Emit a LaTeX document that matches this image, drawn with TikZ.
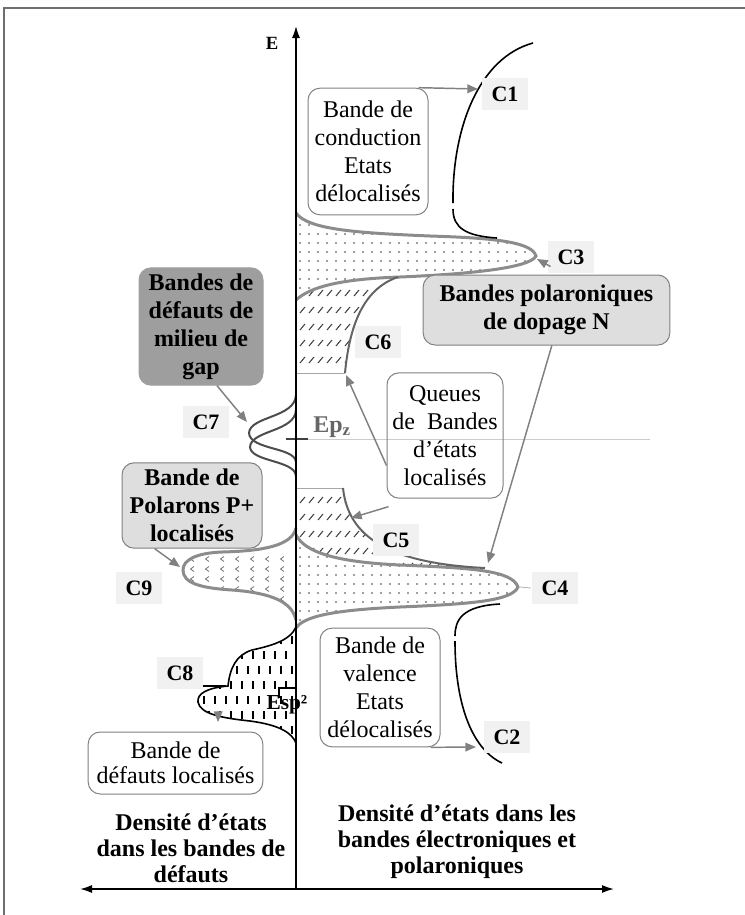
\documentclass[tikz,border=0pt]{standalone}
\usepackage{fontspec}
\setmainfont{Liberation Serif}
\usetikzlibrary{arrows.meta}

\definecolor{framegray}{RGB}{110,110,110}
\definecolor{bandgray}{RGB}{140,140,140}
\definecolor{tailgray}{RGB}{100,100,100}
\definecolor{boxgray}{RGB}{128,128,128}
\definecolor{lightfill}{RGB}{222,222,222}
\definecolor{darkfill}{RGB}{158,158,158}
\definecolor{labelbg}{RGB}{241,241,241}
\definecolor{dotgray}{RGB}{125,125,125}

\tikzset{every picture/.style={line width=0.75pt}}
\tikzset{
  txtbox/.style={draw=boxgray, rounded corners=9pt, align=center, inner sep=2pt, font=\fontsize{18}{21}\selectfont},
  greybox/.style={txtbox, fill=lightfill, font=\bfseries\fontsize{18}{21}\selectfont},
  gapbox/.style={txtbox, draw=darkfill, fill=darkfill, font=\bfseries\fontsize{18}{21}\selectfont},
  clabel/.style={fill=labelbg, inner sep=0pt, minimum width=35pt, minimum height=24pt, font=\bfseries\fontsize{16.5}{18}\selectfont},
  bottomtxt/.style={align=center, inner sep=0pt, font=\bfseries\fontsize{18}{19.5}\selectfont},
  bandline/.style={draw=bandgray, line width=2.25pt},
  tailline/.style={draw=tailgray, line width=1.5pt},
  gapline/.style={draw=black!70, line width=1.5pt},
  dosline/.style={draw=black, line width=1.2pt},
  hatchline/.style={draw=black!75, line width=0.8pt},
  pointer/.style={draw=boxgray, line width=1.1pt, -{Triangle[length=8pt,width=6.5pt]}},
  axisline/.style={draw=black, line width=1.2pt},
}

% band outlines, from the E axis out and back
\def\bandcthree{(296,213) .. controls (308,230) and (360,233) .. (430,236) .. controls (495,238) and (532,242) .. (536,256) .. controls (530,268) and (470,274) .. (400,277) .. controls (340,279) and (310,287) .. (296,300)}
\def\bandcfour{(296,535) .. controls (305,552) and (335,562) .. (400,565) .. controls (470,568) and (512,570) .. (518,587) .. controls (512,601) and (470,604) .. (400,607) .. controls (335,610) and (304,616) .. (296,628)}
\def\bandcnine{(296,528) .. controls (292,546) and (262,551) .. (222,552) .. controls (196,553) and (183,560) .. (183,570) .. controls (183,583) and (200,588) .. (232,590) .. controls (272,593) and (292,602) .. (296,620)}
\def\bandceight{(296,627) .. controls (290,641) and (270,646) .. (252,650) .. controls (236,655) and (230,668) .. (228,686) .. controls (206,688) and (197,694) .. (198,702) .. controls (200,714) and (222,718) .. (250,721) .. controls (280,725) and (292,733) .. (296,743)}

\begin{document}
\begin{tikzpicture}[x=0.75pt,y=0.75pt,yscale=-1,xscale=1]
\useasboundingbox (0,0) rectangle (745,915);

% frame
\draw[draw=framegray, line width=2pt] (745,8) -- (4,8) -- (4,915);

% dotted polaron bands
\begin{scope}
  \clip \bandcthree -- cycle;
  \foreach \x in {300,309,...,540}
    \foreach \y in {216,225,...,300}
      \fill[dotgray] (\x,\y) circle (0.8pt);
\end{scope}
\begin{scope}
  \clip \bandcfour -- cycle;
  \foreach \x in {300,309,...,520}
    \foreach \y in {539,548,...,628}
      \fill[dotgray] (\x,\y) circle (0.8pt);
\end{scope}

% hatched band tails C6 and C5
\begin{scope}
  \clip (296,300) .. controls (310,287) and (340,279) .. (400,277) -- (398,277) .. controls (366,288) and (350,320) .. (345,373) -- (296,373) -- cycle;
  \foreach \y in {293,310,327,343,360}
    \foreach \x in {300,309,...,400}
      \draw[hatchline] (\x,\y+3) -- (\x+5,\y-3);
\end{scope}
\begin{scope}
  \clip (296,488) -- (343,488) .. controls (348,535) and (385,563) .. (485,568) -- (400,565) .. controls (335,562) and (305,552) .. (296,535) -- cycle;
  \foreach \y in {500,517,534,551,566}
    \foreach \x in {300,309,...,480}
      \draw[hatchline] (\x,\y+3) -- (\x+5,\y-3);
\end{scope}

% P+ polarons and mid-gap defects
\begin{scope}
  \clip \bandcnine -- cycle;
  \foreach \y [count=\r] in {559,569,579,589,599}
    \foreach \x in {192,207,...,296}
      \draw[draw=black!55, line width=0.6pt] (\x+2,\y-2.5) -- (\x-1.5,\y) -- (\x+2,\y+2.5);
\end{scope}
\begin{scope}
  \clip \bandceight -- cycle;
  \foreach \y in {640,670,...,745}
    \foreach \x in {204,215,...,296}
      \draw[draw=black, line width=0.9pt] (\x,\y-4) -- (\x,\y+4);
  \foreach \y in {655,685,...,745}
    \foreach \x in {209,220,...,296}
      \draw[draw=black, line width=0.9pt] (\x,\y-4) -- (\x,\y+4);
\end{scope}

% outlines
\draw[bandline] \bandcthree;
\draw[bandline] \bandcfour;
\draw[bandline] \bandcnine;
\draw[dosline] \bandceight;
\draw[draw=black!35, line width=0.6pt] (296,373) -- (345,373);
\draw[draw=black!35, line width=0.6pt] (296,488) -- (343,488);
\draw[tailline] (345,373) .. controls (350,320) and (366,288) .. (398,277);
\draw[tailline] (343,488) .. controls (348,535) and (385,563) .. (485,568);

% C7 defect lobes
\draw[gapline] (296,395) .. controls (295,418) and (250,416) .. (249,433) .. controls (250,450) and (295,447) .. (296,462);
\draw[gapline] (296,410) .. controls (295,432) and (251,430) .. (250,447) .. controls (251,462) and (295,460) .. (296,476);

% delocalised bands C1 and C2
\draw[dosline] (533,43) .. controls (478,58) and (452,130) .. (453,203);
\draw[dosline] (453,209) .. controls (453,228) and (466,236) .. (497,238);
\draw[dosline] (500,604) .. controls (462,606) and (455,620) .. (455,636);
\draw[dosline] (455,641) .. controls (455,700) and (470,748) .. (502,763);

% Ep_z level
\draw[draw=black!20, line width=0.6pt] (308,439) -- (650,439);
\draw[draw=black!75, line width=1.5pt] (286,439) -- (308,439);
\node[font=\bfseries\fontsize{18}{21}\selectfont, text=black!60, inner sep=0pt] (epz) at (332,427) {Ep\textsubscript{z}};

% Esp2 level and C8 tick
\draw[line width=1.2pt] (279,698) -- (279,688) -- (296,688);
\draw[line width=1.2pt] (200,686) -- (226,686);
\node[font=\bfseries\fontsize{16}{18}\selectfont, inner sep=0pt] (esp) at (287,705) {Esp²};

% axes
\coordinate (etop) at (296,26);
\coordinate (ebot) at (296,889);
\coordinate (hleft) at (80,889);
\coordinate (hright) at (614,889);
\draw[axisline, -{Latex[length=9pt,width=6pt]}] (ebot) -- (etop);
\draw[axisline, {Latex[length=9pt,width=6pt]}-{Latex[length=9pt,width=6pt]}] (hleft) -- (hright);
\node[font=\bfseries\fontsize{14}{16}\selectfont] (elabel) at (272,43) {E};

% curve labels
\node[clabel] (c1) at (505,94) {C1};
\node[clabel] (c3) at (571,257) {C3};
\node[clabel] (c6) at (378,342) {C6};
\node[clabel] (c7) at (206,422) {C7};
\node[clabel] (c5) at (396,540) {C5};
\node[clabel] (c9) at (139,588) {C9};
\node[clabel] (c4) at (555,588) {C4};
\node[clabel] (c8) at (180,673) {C8};
\node[clabel] (c2) at (507,737) {C2};
\coordinate (c4end) at (520,587);
\draw[draw=black!30, line width=0.6pt] (c4end) -- (c4.west);

% text boxes
\node[txtbox, minimum width=90pt, minimum height=95pt] (condbox) at (368,151.5) {Bande de\\conduction\\Etats\\délocalisés};
\node[txtbox, minimum width=87pt, minimum height=94pt] (queues) at (445,435.5) {Queues\\de\ \ Bandes\\d’états\\localisés};
\node[greybox, minimum width=185pt, minimum height=52.5pt] (polbox) at (546.5,310) {Bandes polaroniques\\de dopage N};
\node[gapbox, minimum width=93pt, minimum height=88pt] (gapbox) at (201,326.5) {Bandes de\\défauts de\\milieu de\\gap};
\node[greybox, minimum width=105pt, minimum height=64pt] (pplus) at (192,505.5) {Bande de\\Polarons P+\\localisés};
\node[txtbox, minimum width=90pt, minimum height=89pt] (valbox) at (380,687.5) {Bande de\\valence\\Etats\\délocalisés};
\node[txtbox, font=\fontsize{18}{19}\selectfont, minimum width=131pt, minimum height=46.5pt] (defbox) at (175.5,763) {Bande de\\défauts localisés};

% pointers
\coordinate (c1pt) at (478,89);
\coordinate (c3tip) at (537,259);
\coordinate (c4top) at (488,563);
\coordinate (c6end) at (346,375);
\coordinate (c5pt) at (351,518);
\coordinate (c7tip) at (247,422);
\coordinate (c9tip) at (180,567);
\coordinate (c8bot) at (218,722);
\coordinate (c2pt) at (476,747);
\draw[pointer] ([xshift=-7.5pt]condbox.north east) -- (c1pt);
\draw[pointer] ([xshift=3pt,yshift=-6pt]polbox.north) -- (c3tip);
\draw[pointer] ([xshift=4pt]polbox.south) -- (c4top);
\draw[pointer] ([yshift=22.5pt]queues.west) -- (c6end);
\draw[pointer] ([shift={(1.5pt,6pt)}]queues.south west) -- (c5pt);
\draw[pointer] ([xshift=12pt]gapbox.south) -- (c7tip);
\draw[pointer] ([xshift=-28pt]pplus.south) -- (c9tip);
\draw[pointer] ([shift={(32pt,-13.5pt)}]defbox.north) -- (c8bot);
\draw[pointer] ([xshift=-7.5pt]valbox.south east) -- (c2pt);

% axis captions
\node[bottomtxt] (lefttxt) at (191,848) {Densité d’états\\dans les bandes de\\défauts};
\node[bottomtxt] (righttxt) at (457,842) {Densité d’états dans les\\bandes électroniques et\\polaroniques};

\end{tikzpicture}
\end{document}
